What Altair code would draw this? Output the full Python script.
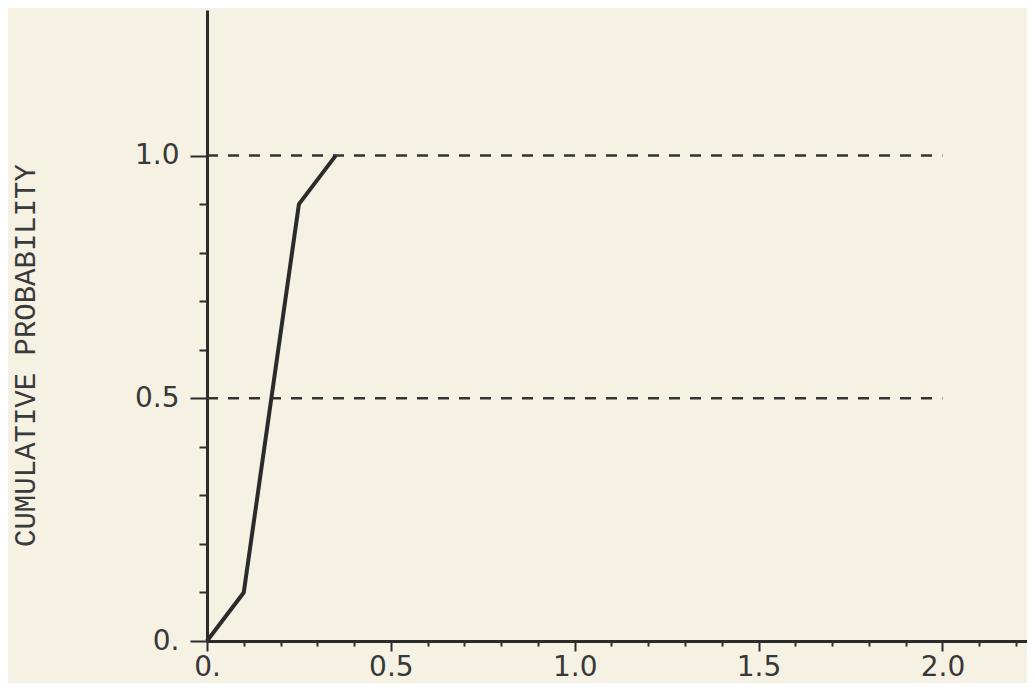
import altair as alt
import pandas as pd

# Curve (cumulative probability)
x_vals = [0.0, 0.1, 0.25, 0.35]
y_vals = [0.0, 0.1, 0.9, 1.0]

# Dashed reference levels
ref_levels = [0.5, 1.0]
ref_x_start = [0.0, 0.0]
ref_x_end = [2.0, 2.0]

# Tick positions
x_tick_values = [0.0, 0.1, 0.2, 0.3, 0.4, 0.5, 0.6, 0.7, 0.8, 0.9, 1.0, 1.1,
                 1.2, 1.3, 1.4, 1.5, 1.6, 1.7, 1.8, 1.9, 2.0, 2.1, 2.2]
y_tick_values = [0.0, 0.1, 0.2, 0.3, 0.4, 0.5, 0.6, 0.7, 0.8, 0.9, 1.0]
y_title = "CUMULATIVE PROBABILITY"

curve_df = pd.DataFrame({"x": x_vals, "y": y_vals})
ref_df = pd.DataFrame({"x0": ref_x_start, "x1": ref_x_end, "level": ref_levels})

major_test = "abs(datum.value*2 - round(datum.value*2)) < 1e-6"
label_expr = ("abs(datum.value*2 - round(datum.value*2)) < 1e-6 ? "
              "(datum.value == 0 ? '0.' : format(datum.value, '.1f')) : ''")

ink = "#2b2b2b"
label_font = "DejaVu Sans"

xscale = alt.Scale(domain=[0, 2.23], nice=False, zero=False)
yscale = alt.Scale(domain=[0, 1.3], nice=False, zero=False)

xaxis = alt.Axis(
    values=x_tick_values, title=None, grid=False,
    domainColor=ink, domainWidth=3,
    tickColor=ink, tickWidth=2,
    tickSize={"condition": {"test": major_test, "value": 10}, "value": 5},
    labelExpr=label_expr, labelFont=label_font, labelFontSize=28,
    labelColor="#383838", labelPadding=2, labelOverlap=False, labelFlush=False,
)
yaxis = alt.Axis(
    values=y_tick_values, title=y_title, grid=False,
    domainColor=ink, domainWidth=3,
    tickColor=ink, tickWidth=2,
    tickSize={"condition": {"test": major_test, "value": 17}, "value": 8},
    labelExpr=label_expr, labelFont=label_font, labelFontSize=28,
    labelColor="#383838", labelPadding=11, labelOverlap=False, labelFlush=False,
    titleFont="Liberation Mono", titleFontSize=29, titleFontWeight="normal",
    titleColor="#3a3a3a", titleX=-182, titleY=345, titleAngle=270,
    titleAlign="center", titleBaseline="middle",
)

refs = alt.Chart(ref_df).mark_rule(
    strokeDash=[11, 10], strokeWidth=2.5, color="#333333"
).encode(
    x=alt.X("x0:Q", scale=xscale, axis=xaxis),
    x2="x1:Q",
    y=alt.Y("level:Q", scale=yscale, axis=yaxis),
)

curve = alt.Chart(curve_df).mark_line(
    color=ink, strokeWidth=4, strokeJoin="round"
).encode(
    x=alt.X("x:Q", scale=xscale, axis=xaxis),
    y=alt.Y("y:Q", scale=yscale, axis=yaxis),
)

chart = alt.layer(refs, curve).properties(
    width=820, height=631,
    padding={"left": 199, "top": 2, "right": 0, "bottom": 42},
    autosize=alt.AutoSizeParams(type="none"),
    background="#f5f1e3",
).configure_view(stroke=None)

chart.save("out.html", embed_options={"renderer": "svg", "actions": False})
